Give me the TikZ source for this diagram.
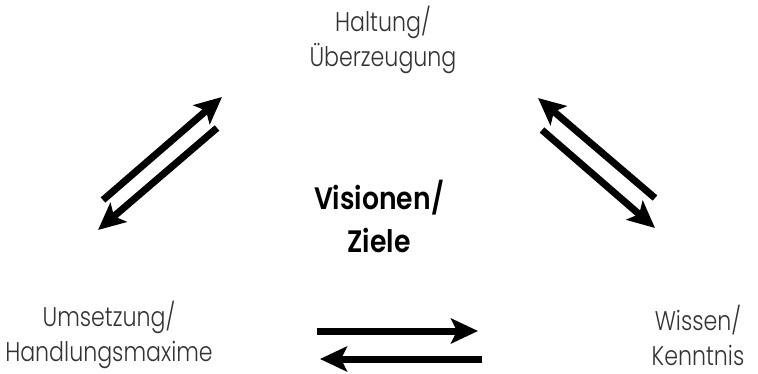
\documentclass[tikz,border=0pt]{standalone}
\usepackage{fontspec}
\setmainfont{Poppins}[UprightFont=* Light, BoldFont=* SemiBold]
\newfontfamily\labelfont{Poppins Light}[FakeStretch=0.82]
\newfontfamily\centrefont{Poppins SemiBold}[FakeStretch=0.86]
\usetikzlibrary{arrows.meta}
\begin{document}
\begin{tikzpicture}[x=1pt,y=-1pt,
  label/.style={font=\labelfont\fontsize{27}{35}\selectfont, text=black!80, align=center, inner sep=0pt},
  centre/.style={font=\centrefont\fontsize{31}{43}\selectfont, align=center, inner sep=0pt},
  flow/.style={line width=7pt, -{Stealth[length=27pt, width=25pt, inset=6pt]}}]
  \useasboundingbox (0,0) rectangle (758,374);

  % corner and centre texts
  \node[label] (top)   at (383,40)  {Haltung/\\Überzeugung};
  \node[label] (left)  at (109,335) {Umsetzung/\\Handlungsmaxime};
  \node[label] (right) at (698,335) {Wissen/\\Kenntnis};
  \node[centre] (mid)  at (379,216) {Visionen/\\Ziele};

  % arrow end points
  \coordinate (a1s) at (103,200); \coordinate (a1e) at (222,97);
  \coordinate (a2s) at (217,128); \coordinate (a2e) at (98,230);
  \coordinate (b1s) at (655,198); \coordinate (b1e) at (538,98);
  \coordinate (b2s) at (542,130); \coordinate (b2e) at (655,228);
  \coordinate (c1s) at (317,331); \coordinate (c1e) at (478,331);
  \coordinate (c2s) at (482,359); \coordinate (c2e) at (320,359);

  \draw[flow] (a1s) -- (a1e);
  \draw[flow] (a2s) -- (a2e);
  \draw[flow] (b1s) -- (b1e);
  \draw[flow] (b2s) -- (b2e);
  \draw[flow] (c1s) -- (c1e);
  \draw[flow] (c2s) -- (c2e);
\end{tikzpicture}
\end{document}
